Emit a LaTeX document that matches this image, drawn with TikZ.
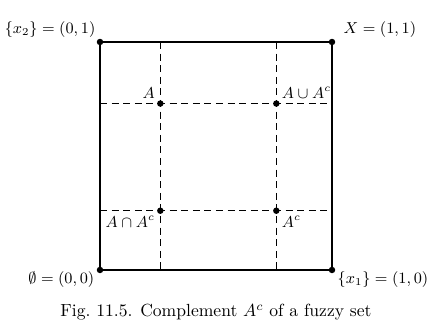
\documentclass[tikz,border=0pt]{standalone}
\usepackage{amssymb}
\usetikzlibrary{positioning}
\begin{document}
\begin{tikzpicture}[x=4.64cm,y=4.56cm,
  dot/.style={circle,fill,inner sep=1.3pt},
  gridline/.style={dash pattern=on 4pt off 2.6pt},
  every label/.style={font=\small,inner sep=1.5pt},
  cornerlbl/.style={font=\small,inner sep=1pt}]
\useasboundingbox (-2.0cm,-1.16cm) rectangle (6.62cm,5.4cm);
% corners of the unit square
\node[dot] (O) at (0,0) {};
\node[dot] (X1) at (1,0) {};
\node[dot] (X2) at (0,1) {};
\node[dot] (X) at (1,1) {};
\draw[semithick] (O.center) -- (X1.center) -- (X.center) -- (X2.center) -- cycle;
\node[cornerlbl,anchor=south east] at (X2.north west) {$\{x_2\}=(0,1)$};
\node[cornerlbl,anchor=south west] at ([xshift=4pt]X.north east) {$X=(1,1)$};
\node[cornerlbl,anchor=north east] at (O.west) {$\emptyset=(0,0)$};
\node[cornerlbl,anchor=north west] at (X1.east) {$\{x_1\}=(1,0)$};
% dashed grid
\coordinate (t1) at (0.26,1);
\coordinate (b1) at (0.26,0);
\coordinate (t2) at (0.76,1);
\coordinate (b2) at (0.76,0);
\coordinate (l1) at (0,0.73);
\coordinate (r1) at (1,0.73);
\coordinate (l2) at (0,0.26);
\coordinate (r2) at (1,0.26);
\draw[gridline] (t1) -- (b1);
\draw[gridline] (t2) -- (b2);
\draw[gridline] (l1) -- (r1);
\draw[gridline] (l2) -- (r2);
% points
\node[dot,label={above left:$A$}] (A) at (0.26,0.73) {};
\node[dot,label={above right:$A\cup A^c$}] (U) at (0.76,0.73) {};
\node[dot,label={below left:$A\cap A^c$}] (I) at (0.26,0.26) {};
\node[dot,label={below right:$A^c$}] (C) at (0.76,0.26) {};
\node (cap) at (0.5,-0.185) {Fig.~11.5. Complement $A^c$ of a fuzzy set};
\end{tikzpicture}
\end{document}
